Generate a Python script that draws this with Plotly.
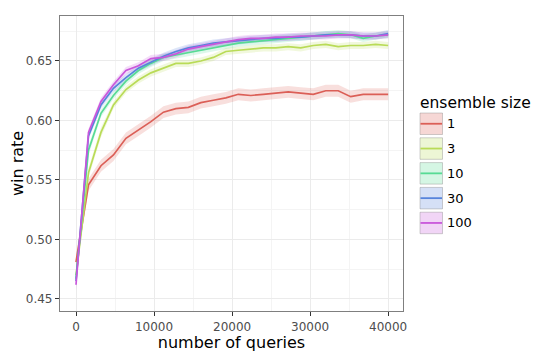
import plotly.graph_objects as go

queries = [0, 1600, 3200, 4800, 6400, 8000, 9600, 11200, 12800, 14400, 16000, 17600, 19200,
           20800, 22400, 24000, 25600, 27200, 28800, 30400, 32000, 33600, 35200, 36800, 38400, 40000]

size_labels = ["1", "3", "10", "30", "100"]

win_1 = [0.481, 0.546, 0.562, 0.571, 0.585, 0.592, 0.599, 0.607, 0.610, 0.611, 0.615, 0.617, 0.619,
         0.622, 0.621, 0.622, 0.623, 0.624, 0.623, 0.622, 0.625, 0.625, 0.620, 0.622, 0.622, 0.622]
win_3 = [0.470, 0.556, 0.590, 0.613, 0.626, 0.634, 0.640, 0.644, 0.648, 0.648, 0.650, 0.653, 0.658,
         0.659, 0.660, 0.661, 0.661, 0.662, 0.661, 0.663, 0.664, 0.662, 0.663, 0.663, 0.664, 0.663]
win_10 = [0.467, 0.575, 0.606, 0.621, 0.633, 0.642, 0.648, 0.653, 0.655, 0.657, 0.659, 0.661, 0.663,
          0.665, 0.666, 0.667, 0.668, 0.669, 0.670, 0.671, 0.672, 0.673, 0.672, 0.669, 0.671, 0.672]
win_30 = [0.465, 0.587, 0.613, 0.627, 0.636, 0.644, 0.649, 0.654, 0.658, 0.661, 0.663, 0.665, 0.666,
          0.667, 0.668, 0.669, 0.669, 0.670, 0.670, 0.671, 0.672, 0.672, 0.672, 0.671, 0.671, 0.673]
win_100 = [0.462, 0.590, 0.616, 0.630, 0.642, 0.646, 0.652, 0.653, 0.656, 0.660, 0.662, 0.664, 0.666,
           0.668, 0.669, 0.669, 0.670, 0.670, 0.671, 0.671, 0.671, 0.672, 0.672, 0.671, 0.671, 0.672]

ci_1 = [0.006, 0.005, 0.005, 0.005, 0.005, 0.005, 0.005, 0.005, 0.005, 0.005, 0.005, 0.005, 0.005,
        0.005, 0.005, 0.005, 0.005, 0.005, 0.005, 0.005, 0.005, 0.005, 0.005, 0.005, 0.005, 0.005]
ci_3 = [0.005, 0.004, 0.004, 0.003, 0.003, 0.003, 0.003, 0.003, 0.003, 0.003, 0.003, 0.003, 0.003,
        0.003, 0.003, 0.003, 0.003, 0.003, 0.003, 0.003, 0.003, 0.003, 0.003, 0.003, 0.003, 0.003]
ci_10 = [0.005, 0.004, 0.003, 0.003, 0.003, 0.003, 0.003, 0.003, 0.003, 0.003, 0.003, 0.003, 0.003,
         0.003, 0.003, 0.003, 0.003, 0.003, 0.003, 0.003, 0.003, 0.003, 0.003, 0.003, 0.003, 0.003]
ci_30 = [0.005, 0.003, 0.003, 0.003, 0.003, 0.003, 0.003, 0.003, 0.003, 0.003, 0.003, 0.003, 0.003,
         0.003, 0.003, 0.003, 0.003, 0.003, 0.003, 0.003, 0.003, 0.003, 0.003, 0.003, 0.003, 0.003]
ci_100 = [0.005, 0.003, 0.003, 0.003, 0.003, 0.003, 0.003, 0.003, 0.003, 0.003, 0.003, 0.003, 0.003,
          0.003, 0.003, 0.003, 0.003, 0.003, 0.003, 0.003, 0.003, 0.003, 0.003, 0.003, 0.003, 0.003]

series = [win_1, win_3, win_10, win_30, win_100]
cis = [ci_1, ci_3, ci_10, ci_30, ci_100]
colors = ["#db5f57", "#b9db57", "#57db94", "#5784db", "#c957db"]
rgb = [(219, 95, 87), (185, 219, 87), (87, 219, 148), (87, 132, 219), (201, 87, 219)]

# the page body has an 8px margin, so the figure is drawn 8px right/down of the window corner
OFF = 8
W, H = 540 - OFF, 360 - OFF
# desired plot area in window pixels: x 60..403, y 16..311
L, T = 60 - OFF, 16 - OFF
R = W - (403 - OFF)
B = H - (311 - OFF)
PW, PH = W - L - R, H - T - B


def px_x(px):
    return (px - OFF - L) / PW


def px_y(py):
    return (H - B - (py - OFF)) / PH


fig = go.Figure()
for name, ys, ci, (r, g, b) in zip(size_labels, series, cis, rgb):
    upper = [y + c for y, c in zip(ys, ci)]
    lower = [y - c for y, c in zip(ys, ci)]
    fig.add_trace(go.Scatter(
        x=queries + queries[::-1], y=upper + lower[::-1], fill="toself",
        fillcolor=f"rgba({r},{g},{b},0.2)", line=dict(width=0), mode="lines", hoverinfo="skip",
        showlegend=False))
for name, ys, col in zip(size_labels, series, colors):
    fig.add_trace(go.Scatter(
        x=queries, y=ys, mode="lines", line=dict(color=col, width=1.7),
        name=name, showlegend=False))

# manual legend (ggplot style key boxes)
shapes = []
annotations = [dict(text="ensemble size", xref="paper", yref="paper", x=px_x(418), y=px_y(103),
                    xanchor="left", yanchor="middle", showarrow=False,
                    font=dict(family="DejaVu Sans", size=15.5, color="black"))]
for i, (name, col, (r, g, b)) in enumerate(zip(size_labels, colors, rgb)):
    top = 113 + i * 24.8
    bot = top + 21.5
    shapes.append(dict(type="rect", xref="paper", yref="paper",
                       x0=px_x(420), x1=px_x(442.5), y0=px_y(bot), y1=px_y(top),
                       fillcolor=f"rgba({r},{g},{b},0.25)",
                       line=dict(color="rgba(120,120,120,0.35)", width=1)))
    mid = (top + bot) / 2
    shapes.append(dict(type="line", xref="paper", yref="paper",
                       x0=px_x(420.5), x1=px_x(442), y0=px_y(mid), y1=px_y(mid),
                       line=dict(color=col, width=1.8)))
    annotations.append(dict(text=name, xref="paper", yref="paper", x=px_x(445), y=px_y(mid),
                            xanchor="left", yanchor="middle", showarrow=False,
                            font=dict(family="DejaVu Sans", size=13, color="black")))

axis_common = dict(
    showgrid=True, gridcolor="#ebebeb", gridwidth=1,
    showline=True, linecolor="#7f7f7f", linewidth=1.2, mirror=True,
    ticks="outside", ticklen=4, tickcolor="#333333",
    tickfont=dict(family="DejaVu Sans", size=12, color="#4d4d4d"),
    zeroline=False, automargin=False,
)

fig.update_xaxes(**axis_common, range=[-2050, 41900], tickvals=[0, 10000, 20000, 30000, 40000],
                 tickformat="d",
                 minor=dict(showgrid=True, gridcolor="#f4f4f4", tickvals=[5000, 15000, 25000, 35000], ticks=""),
                 title=dict(text="number of queries", font=dict(family="DejaVu Sans", size=16, color="black"),
                            standoff=4))
fig.update_yaxes(**axis_common, range=[0.4399, 0.6878], tickvals=[0.45, 0.50, 0.55, 0.60, 0.65],
                 tickformat=".2f",
                 minor=dict(showgrid=True, gridcolor="#f4f4f4", tickvals=[0.475, 0.525, 0.575, 0.625, 0.675], ticks=""),
                 title=dict(text="win rate", font=dict(family="DejaVu Sans", size=16, color="black"),
                            standoff=4))

fig.update_layout(
    width=W, height=H,
    margin=dict(l=L, r=R, t=T, b=B),
    plot_bgcolor="white", paper_bgcolor="white",
    font=dict(family="DejaVu Sans"),
    showlegend=False,
    shapes=shapes, annotations=annotations,
)

fig.write_html("out.html")
